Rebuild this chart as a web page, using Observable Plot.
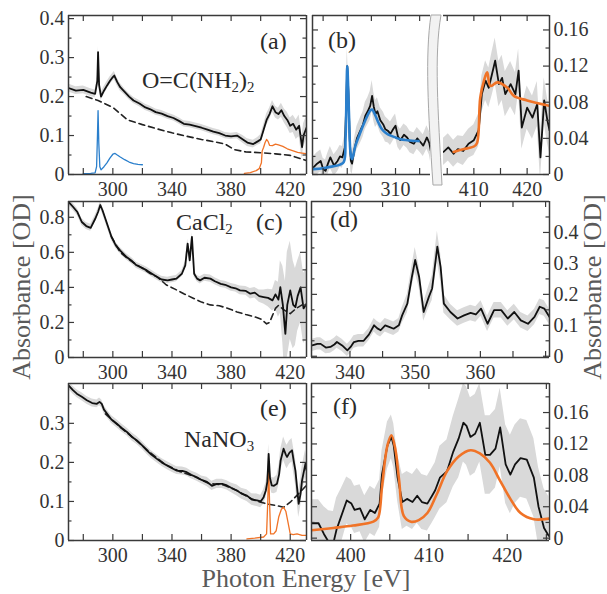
<!DOCTYPE html>
<html><head><meta charset="utf-8">
<script src="https://cdn.jsdelivr.net/npm/d3@7"></script>
<script src="https://cdn.jsdelivr.net/npm/@observablehq/plot@0.6"></script>
<style>
body{margin:0;background:#fff;}
#root{position:relative;width:607px;height:594px;overflow:hidden;font-family:"Liberation Serif",Tinos,"Times New Roman",Times,"DejaVu Serif",serif;}
.t{position:absolute;white-space:nowrap;line-height:1;color:#2a2a2a;font-size:24px;}
.t sub{font-size:62%;vertical-align:-0.3em;line-height:0;}
.ax{position:absolute;white-space:nowrap;line-height:1;color:#5a5a5a;font-size:26px;}
svg text{font-family:"Liberation Serif",Tinos,"Times New Roman",Times,"DejaVu Serif",serif;}
</style></head><body><div id="root"></div>
<script>
// ---------------- DATA ----------------
// (a) urea, full range
const aX = [270,275,280,285,288,289.5,290,290.7,292,294,296,298,300,301,303,305,308,311,314,318,322,325,329,333,337,341,345,348,352,356,360,364,368,372,376,380,384,388,391,395,398,400,402,404,406,408,410,412,414,416,418,420,422,424,426,428,429,431];
const aY = [0.222,0.215,0.217,0.21,0.207,0.24,0.314,0.23,0.2,0.215,0.228,0.24,0.25,0.254,0.237,0.224,0.212,0.2,0.19,0.182,0.172,0.168,0.16,0.156,0.15,0.145,0.137,0.13,0.128,0.124,0.12,0.115,0.11,0.106,0.1,0.098,0.1,0.09,0.082,0.078,0.085,0.09,0.115,0.14,0.155,0.175,0.16,0.155,0.165,0.15,0.14,0.125,0.13,0.115,0.125,0.07,0.1,0.12];
const aE = [0.01,0.01,0.01,0.01,0.01,0.012,0.015,0.012,0.01,0.01,0.01,0.01,0.01,0.01,0.01,0.01,0.008,0.008,0.008,0.008,0.008,0.008,0.008,0.008,0.008,0.008,0.008,0.008,0.008,0.008,0.008,0.008,0.008,0.008,0.008,0.008,0.008,0.01,0.01,0.01,0.01,0.012,0.012,0.015,0.015,0.015,0.015,0.015,0.018,0.018,0.02,0.02,0.022,0.025,0.028,0.03,0.03,0.03];
const aBgX = [282,290,300,310,320,330,340,350,360,370,376,382,390,400,410,420,431];
const aBgY = [0.2,0.19,0.172,0.14,0.128,0.117,0.107,0.098,0.09,0.083,0.078,0.064,0.058,0.056,0.053,0.049,0.036];
const aRefCX = [280,285,288,289,289.6,290,290.5,291.2,292,294,296,298,300,301.5,303,305,308,311,314,317,320];
const aRefCY = [0.002,0.003,0.004,0.02,0.1,0.164,0.08,0.02,0.012,0.02,0.03,0.042,0.052,0.054,0.05,0.045,0.038,0.032,0.028,0.026,0.025];
const aRefNX = [389,393,397,399,400.5,401,402,403,404,405,406,408,410,412,415,418,421,425,428,431];
const aRefNY = [0.003,0.005,0.01,0.015,0.03,0.06,0.07,0.082,0.09,0.085,0.075,0.074,0.078,0.076,0.072,0.066,0.062,0.057,0.055,0.053];

// (b) urea, zoom on C and N edges
const bCX = [276,277.5,279,280,281,282,283,284.5,286,287,288,289,289.5,290,290.5,291,291.5,292,293,294,295.5,296.5,297.5,298.5,299.5,300.3,301,301.7,302.5,303.7,305,305.8,307,307.9,309,310,311,312,313.5,314.8,316,317.6,319,320.3,321.5,323,324,325];
const bCY = [0.008,0.012,0.015,0.006,0.004,0.012,0.019,0.01,0.015,0.02,0.019,0.03,0.07,0.12,0.09,0.04,0.015,0.012,0.028,0.04,0.049,0.055,0.065,0.07,0.076,0.087,0.075,0.067,0.07,0.06,0.055,0.05,0.048,0.045,0.05,0.054,0.042,0.038,0.044,0.041,0.036,0.034,0.04,0.036,0.032,0.041,0.035,0.021];
const bCE = [0.012,0.012,0.012,0.012,0.012,0.012,0.012,0.012,0.012,0.012,0.012,0.014,0.018,0.02,0.018,0.014,0.012,0.012,0.012,0.013,0.014,0.014,0.015,0.015,0.016,0.017,0.016,0.015,0.015,0.014,0.014,0.014,0.013,0.013,0.013,0.013,0.012,0.012,0.012,0.012,0.012,0.012,0.012,0.012,0.012,0.013,0.013,0.014];
const bCfitX = [276,280,284,287,288.6,289.3,289.7,290,290.4,290.8,291.4,292,293.4,295.5,297.5,299.6,300.3,301.7,303,304.4,306,308,310,312,315,319.6];
const bCfitY = [0.006,0.007,0.009,0.011,0.014,0.04,0.09,0.12,0.095,0.06,0.023,0.017,0.032,0.047,0.06,0.071,0.072,0.065,0.057,0.05,0.046,0.043,0.041,0.039,0.038,0.037];
const bNX = [404.3,405.2,406.2,407,408,409,410,410.9,411.5,412.2,412.8,413.4,414,414.7,415.3,415.9,416.9,417.8,418.4,419,420,421,421.9,422.5,423.2,423.8,424.2];
const bNY = [0.025,0.03,0.023,0.028,0.026,0.034,0.038,0.049,0.089,0.104,0.096,0.111,0.126,0.1,0.107,0.089,0.1,0.089,0.115,0.052,0.074,0.063,0.078,0.019,0.082,0.06,0.049];
const bNE = [0.015,0.015,0.015,0.015,0.016,0.016,0.017,0.018,0.02,0.022,0.022,0.024,0.025,0.025,0.025,0.025,0.025,0.024,0.024,0.024,0.024,0.024,0.025,0.025,0.025,0.025,0.025];
const bNfitX = [406.2,408,410,410.6,411.2,411.9,412.5,413.1,414.4,416.3,417.5,420,424.2];
const bNfitY = [0.025,0.028,0.031,0.035,0.085,0.104,0.113,0.098,0.102,0.096,0.087,0.082,0.076];

// (c) CaCl2, full range
const cX = [270,273,276,279,282,285,288,290,291.5,293,295,297,299,302,305,309,313,316,320,323,327,330,333,337,340,343,346.7,349,350.6,352,353.5,355,357,359,362,366,369,373,376,380,383,386,390,393,396,399,402,405,408,410,412,413.3,415,416.7,418,420,422,423.5,425,427,429,431];
const cY = [0.888,0.86,0.83,0.773,0.75,0.74,0.79,0.83,0.87,0.84,0.79,0.74,0.69,0.64,0.61,0.575,0.55,0.526,0.51,0.497,0.475,0.459,0.445,0.44,0.445,0.45,0.478,0.526,0.65,0.554,0.688,0.478,0.45,0.44,0.455,0.45,0.435,0.42,0.415,0.4,0.395,0.383,0.38,0.364,0.37,0.35,0.345,0.34,0.326,0.36,0.33,0.402,0.3,0.135,0.3,0.383,0.3,0.288,0.35,0.4,0.28,0.307];
const cE = [0.02,0.02,0.02,0.02,0.02,0.02,0.02,0.02,0.02,0.02,0.02,0.02,0.02,0.018,0.018,0.018,0.018,0.018,0.018,0.018,0.018,0.018,0.018,0.018,0.018,0.018,0.018,0.02,0.025,0.025,0.025,0.02,0.018,0.02,0.02,0.02,0.02,0.02,0.02,0.022,0.022,0.025,0.025,0.03,0.03,0.035,0.04,0.05,0.06,0.08,0.1,0.15,0.22,0.3,0.3,0.28,0.25,0.22,0.2,0.2,0.2,0.2];
const cBgX = [299,305,310,315,320,325,330,336,342,348,354,360,366,372,378,384,390,396,400,404,406,408,410,412,416,420,424,428];
const cBgY = [0.69,0.6,0.565,0.535,0.51,0.48,0.46,0.415,0.39,0.364,0.34,0.316,0.3,0.295,0.28,0.26,0.245,0.232,0.22,0.192,0.2,0.24,0.28,0.297,0.27,0.25,0.28,0.3];

// (d) CaCl2, Ca L-edge
const dX = [334.2,335,335.5,336.3,337,337.6,338,338.8,339.6,340.1,340.6,341.3,342.1,342.9,343.7,344.2,344.7,345.4,346,346.7,347.5,348,348.8,349.5,350,350.6,351.3,352.1,352.6,353.4,353.9,354.4,355.4,356.5,357.5,358.5,359.3,360.1,361.1,362.1,363.2,364.2,365.2,366.2,367.3,368.3,369.1,369.8,370.6];
const dY = [0.035,0.04,0.04,0.028,0.03,0.038,0.046,0.035,0.019,0.03,0.046,0.05,0.05,0.07,0.1,0.09,0.084,0.1,0.095,0.089,0.1,0.132,0.17,0.257,0.311,0.257,0.143,0.192,0.219,0.354,0.289,0.17,0.143,0.122,0.132,0.14,0.135,0.154,0.105,0.149,0.149,0.122,0.143,0.116,0.105,0.127,0.16,0.154,0.127];
const dE = [0.02,0.02,0.02,0.02,0.02,0.02,0.02,0.02,0.02,0.02,0.02,0.02,0.02,0.02,0.022,0.022,0.022,0.022,0.022,0.022,0.022,0.025,0.03,0.035,0.04,0.035,0.03,0.035,0.04,0.05,0.045,0.03,0.025,0.025,0.025,0.025,0.025,0.025,0.025,0.025,0.025,0.025,0.025,0.025,0.025,0.025,0.025,0.025,0.025];

// (e) NaNO3, full range
const eX = [270,273,275.6,279,282.4,286,289.2,291,292.5,294,296,299,302.7,306,309.5,313,316.3,320,323,326,329.8,333,336.6,340,343.3,347,350,353,356.9,360,363.7,367,370.4,374,377.2,380,384,387,390.7,394,397.5,400,402,403.5,404.5,405.4,406.3,407.5,409,411,412.5,413.5,415.5,417,417.8,419.5,421.2,422.5,423.5,424.5,425.7,427,428,430.3,431];
const eY = [0.397,0.385,0.376,0.368,0.359,0.352,0.35,0.355,0.35,0.335,0.325,0.31,0.299,0.288,0.278,0.265,0.256,0.243,0.231,0.22,0.209,0.2,0.192,0.185,0.179,0.178,0.175,0.168,0.162,0.155,0.15,0.14,0.145,0.145,0.141,0.135,0.128,0.12,0.115,0.105,0.103,0.1,0.111,0.128,0.15,0.222,0.16,0.141,0.14,0.145,0.17,0.205,0.235,0.22,0.214,0.225,0.231,0.2,0.179,0.14,0.094,0.12,0.154,0.197,0.18];
const eE = [0.01,0.01,0.01,0.01,0.01,0.01,0.01,0.01,0.01,0.01,0.01,0.01,0.01,0.01,0.01,0.01,0.01,0.01,0.01,0.01,0.01,0.01,0.01,0.01,0.01,0.01,0.01,0.01,0.01,0.01,0.012,0.012,0.012,0.012,0.012,0.012,0.014,0.014,0.015,0.015,0.016,0.016,0.018,0.02,0.02,0.025,0.02,0.02,0.02,0.022,0.025,0.028,0.03,0.03,0.03,0.03,0.03,0.032,0.035,0.035,0.035,0.035,0.035,0.035,0.035];
const eBgX = [295,305,315,325,335,345,355,365,375,385,393,398,405,410,415.5,420,425.7,431];
const eBgY = [0.324,0.29,0.259,0.226,0.196,0.177,0.164,0.146,0.142,0.126,0.108,0.1,0.093,0.09,0.085,0.098,0.12,0.141];
const eRefX = [390.7,396,402,404,404.8,405.4,406,406.7,408.8,410.5,412.2,414,415.5,417,418,420,422,424.6,428,431];
const eRefY = [0.004,0.006,0.009,0.017,0.1,0.188,0.1,0.017,0.017,0.025,0.06,0.08,0.085,0.075,0.056,0.017,0.015,0.017,0.013,0.013];

// (f) NaNO3, N K-edge
const fX = [395,395.9,396.6,397.2,397.8,398.2,398.8,399.5,400.1,400.5,401.2,401.8,402.5,403.1,403.7,404,404.7,405.2,405.5,406,406.6,407.2,407.9,408.5,409.1,409.8,410.4,410.8,411.4,412.3,413.1,413.8,414.4,414.8,415.3,415.9,416.5,417.2,417.8,418.5,419.1,419.8,420.4,421,421.7,422.5,423.4,424,424.7,425.3];
const fY = [0.019,0.019,0.005,-0.005,-0.006,0.011,0.028,0.048,0.044,0.036,0.038,0.024,0.036,0.032,0.044,0.081,0.118,0.129,0.118,0.077,0.046,0.05,0.046,0.054,0.046,0.044,0.054,0.061,0.077,0.085,0.11,0.127,0.147,0.143,0.129,0.133,0.147,0.106,0.106,0.114,0.141,0.094,0.081,0.094,0.102,0.1,0.077,0.04,0.013,0.003];
const fE = [0.03,0.03,0.035,0.04,0.04,0.04,0.035,0.03,0.03,0.03,0.03,0.03,0.03,0.03,0.03,0.03,0.03,0.028,0.028,0.03,0.035,0.035,0.035,0.035,0.035,0.035,0.035,0.035,0.04,0.04,0.045,0.05,0.05,0.05,0.05,0.05,0.05,0.05,0.05,0.05,0.05,0.05,0.05,0.05,0.05,0.05,0.05,0.05,0.05,0.05];
const fFitX = [395,397.8,400.3,402.9,403.5,404,404.4,404.7,405.2,405.7,406.2,406.8,407.7,408.7,409.8,411,412.3,413.8,415.3,416.5,417.8,419.1,420.4,421.7,423.4,425.4];
const fFitY = [0.01,0.013,0.016,0.021,0.026,0.065,0.1,0.118,0.131,0.114,0.073,0.028,0.021,0.023,0.032,0.056,0.085,0.104,0.112,0.108,0.096,0.073,0.05,0.032,0.024,0.025];

// tick values
const xTicksWide = [280,300,320,340,360,380,400,420];
const xLabelsWide = [300,340,380,420];
const xTicksB1 = [280,290,300,310,320];
const xLabelsB1 = [290,310];
const xTicksB2 = [405,410,415,420];
const xLabelsB2 = [410,420];
const xTicksD = [340,345,350,355,360,365,370];
const xLabelsD = [340,350,360];
const xTicksF = [400,405,410,415,420,425];
const xLabelsF = [400,410,420];
const yLabelsA = [0,0.1,0.2,0.3,0.4];
const yLabelsB = [0,0.04,0.08,0.12,0.16];
const yLabelsC = [0,0.2,0.4,0.6,0.8];
const yLabelsD = [0,0.1,0.2,0.3,0.4];
const yLabelsE = [0,0.1,0.2,0.3];
const yLabelsF = [0,0.04,0.08,0.12,0.16];
const yMinorA = [0.05,0.15,0.25,0.35];
const yMinorB = [0.02,0.06,0.1,0.14];
const yMinorC = [0.1,0.3,0.5,0.7];
const yMinorD = [0.05,0.15,0.25,0.35,0.45];
const yMinorE = [0.05,0.15,0.25,0.35];
const yMinorF = [0.02,0.06,0.1,0.14,0.18];

// ---------------- HELPERS ----------------
const FONT = '"Liberation Serif",Tinos,"Times New Roman",Times,"DejaVu Serif",serif';
const INK = "#3a3a3a";
const BAND = "#d9d9d9";
const BLUE = "#2a7fcc";
const ORANGE = "#f07327";
const zip = (xs, ys, es) => xs.map((x, i) => ({x, y: ys[i], lo: es ? ys[i] - es[i] : 0, hi: es ? ys[i] + es[i] : 0}));
const fmt = d => d === 0 ? "0" : String(d);
const root = document.getElementById("root");

function band(d) { return Plot.areaY(d, {x: "x", y1: "lo", y2: "hi", fill: BAND, clip: true}); }
function black(d) { return Plot.line(d, {x: "x", y: "y", stroke: "#111", strokeWidth: 1.8, clip: true}); }
function dashed(d) { return Plot.line(d, {x: "x", y: "y", stroke: "#222", strokeWidth: 1.6, strokeDasharray: "6,4", clip: true}); }
function thin(d, c) { return Plot.line(d, {x: "x", y: "y", stroke: c, strokeWidth: 1.3, clip: true}); }
function fit(d, c) { return Plot.line(d, {x: "x", y: "y", stroke: c, strokeWidth: 2.6, curve: "catmull-rom", clip: true}); }

function panel(o) {
  const mL = 60, mR = 60, mT = 12, mB = 40;
  const s = Object.assign({top: true, bottom: true, left: true, right: true}, o.sides || {});
  const h = o.h, w = o.w, TL = 6, TM = 3.5;
  const m = [...o.marks];
  const rx = (v, opt) => Plot.ruleX(v, Object.assign({x: d => d, stroke: INK, strokeWidth: 1.2}, opt));
  const ry = (v, opt) => Plot.ruleY(v, Object.assign({y: d => d, stroke: INK, strokeWidth: 1.2}, opt));
  if (s.bottom) { m.push(rx(o.xMaj, {insetTop: h - TL})); if (o.xMin) m.push(rx(o.xMin, {insetTop: h - TM})); }
  if (s.top) { m.push(rx(o.xMaj, {insetBottom: h - TL})); if (o.xMin) m.push(rx(o.xMin, {insetBottom: h - TM})); }
  if (s.left) { m.push(ry(o.yMaj, {insetRight: w - TL})); m.push(ry(o.yMin, {insetRight: w - TM})); }
  if (s.right) { m.push(ry(o.yMaj, {insetLeft: w - TL})); m.push(ry(o.yMin, {insetLeft: w - TM})); }
  m.push(Plot.ruleY([o.ydom[0], o.ydom[1]], {y: d => d, stroke: INK, strokeWidth: 1.5}));
  const fx = [];
  if (s.left) fx.push(o.xdom[0]);
  if (s.right) fx.push(o.xdom[1]);
  if (fx.length) m.push(Plot.ruleX(fx, {x: d => d, stroke: INK, strokeWidth: 1.5}));
  m.push(Plot.axisX(o.xLab, {anchor: "bottom", tickSize: 0, tickPadding: 7, label: null, fontSize: 20, fontFamily: FONT, tickFormat: fmt}));
  if (o.yLab) m.push(Plot.axisY(o.yLab, {anchor: o.ySide, tickSize: 0, tickPadding: 4, label: null, fontSize: 20, fontFamily: FONT, tickFormat: fmt}));
  const svg = Plot.plot({
    width: w + mL + mR, height: h + mT + mB,
    marginLeft: mL, marginRight: mR, marginTop: mT, marginBottom: mB,
    x: {domain: o.xdom, axis: null},
    y: {domain: o.ydom, axis: null},
    style: {background: "transparent", fontFamily: FONT, fontSize: "20px", color: "#333", overflow: "visible", maxWidth: "none"},
    marks: m
  });
  svg.style.position = "absolute";
  svg.style.left = (o.left - mL) + "px";
  svg.style.top = (o.top - mT) + "px";
  root.appendChild(svg);
}

function text(html, left, top, cls, extra) {
  const el = document.createElement("div");
  el.className = cls || "t";
  el.innerHTML = html;
  el.style.left = left + "px";
  el.style.top = top + "px";
  if (extra) Object.assign(el.style, extra);
  root.appendChild(el);
  return el;
}

// ---------------- PANELS ----------------
panel({left: 68, top: 15, w: 238, h: 159, xdom: [270, 431], ydom: [0, 0.408],
  xMaj: xTicksWide, xLab: xLabelsWide, yMaj: yLabelsA, yMin: yMinorA, yLab: yLabelsA, ySide: "left",
  marks: [band(zip(aX, aY, aE)), dashed(zip(aBgX, aBgY)), thin(zip(aRefCX, aRefCY), BLUE), thin(zip(aRefNX, aRefNY), ORANGE), black(zip(aX, aY))]});
panel({left: 312, top: 15, w: 118, h: 159, xdom: [275.6, 324.5], ydom: [0, 0.176], sides: {right: false},
  xMaj: xTicksB1, xLab: xLabelsB1, yMaj: yLabelsB, yMin: yMinorB, yLab: null,
  marks: [band(zip(bCX, bCY, bCE)), black(zip(bCX, bCY)), fit(zip(bCfitX, bCfitY), BLUE)]});
panel({left: 443, top: 15, w: 106, h: 159, xdom: [404.3, 424.2], ydom: [0, 0.176], sides: {left: false},
  xMaj: xTicksB2, xLab: xLabelsB2, yMaj: yLabelsB, yMin: yMinorB, yLab: yLabelsB, ySide: "right",
  marks: [band(zip(bNX, bNY, bNE)), black(zip(bNX, bNY)), fit(zip(bNfitX, bNfitY), ORANGE)]});
panel({left: 68, top: 201, w: 238, h: 156, xdom: [270, 431], ydom: [0, 0.89],
  xMaj: xTicksWide, xLab: xLabelsWide, yMaj: yLabelsC, yMin: yMinorC, yLab: yLabelsC, ySide: "left",
  marks: [band(zip(cX, cY, cE)), dashed(zip(cBgX, cBgY)), black(zip(cX, cY))]});
panel({left: 311, top: 201, w: 238, h: 156, xdom: [334.1, 370.6], ydom: [-0.004, 0.5],
  xMaj: xTicksD, xLab: xLabelsD, yMaj: yLabelsD, yMin: yMinorD, yLab: yLabelsD, ySide: "right",
  marks: [band(zip(dX, dY, dE)), black(zip(dX, dY))]});
panel({left: 68, top: 383, w: 238, h: 157, xdom: [270, 431], ydom: [0, 0.402],
  xMaj: xTicksWide, xLab: xLabelsWide, yMaj: yLabelsE, yMin: yMinorE, yLab: yLabelsE, ySide: "left",
  marks: [band(zip(eX, eY, eE)), dashed(zip(eBgX, eBgY)), thin(zip(eRefX, eRefY), ORANGE), black(zip(eX, eY))]});
panel({left: 311, top: 383, w: 238, h: 157, xdom: [395, 425.4], ydom: [-0.003, 0.197],
  xMaj: xTicksF, xLab: xLabelsF, yMaj: yLabelsF, yMin: yMinorF, yLab: yLabelsF, ySide: "right",
  marks: [band(zip(fX, fY, fE)), black(zip(fX, fY)), fit(zip(fFitX, fFitY), ORANGE)]});

// axis break decoration for (b)
const ns = "http://www.w3.org/2000/svg";
const brk = document.createElementNS(ns, "svg");
brk.setAttribute("width", 30); brk.setAttribute("height", 180);
brk.style.position = "absolute"; brk.style.left = "422px"; brk.style.top = "10px";
const p = document.createElementNS(ns, "path");
p.setAttribute("d", "M9,5 C3,45 6,100 11,175 L20,175 C16,100 12,45 19,5 Z");
p.setAttribute("fill", "#f2f2f2"); p.setAttribute("stroke", "#a8a8a8"); p.setAttribute("stroke-width", "1");
brk.appendChild(p);
root.appendChild(brk);

// annotations
text("(a)", 260, 29);
text("O=C(NH<sub>2</sub>)<sub>2</sub>", 142, 68);
text("(b)", 328, 28);
text("CaCl<sub>2</sub>", 176, 210);
text("(c)", 256, 210);
text("(d)", 330, 207);
text("(e)", 260, 396);
text("NaNO<sub>3</sub>", 184, 427);
text("(f)", 333, 394);
text("Photon Energy [eV]", 306, 566, "ax", {transform: "translateX(-50%)"});
text("Absorbance [OD]", 22, 287, "ax", {transform: "translate(-50%,-50%) rotate(-90deg)"});
text("Absorbance [OD]", 593, 287, "ax", {transform: "translate(-50%,-50%) rotate(-90deg)"});
</script></body></html>
